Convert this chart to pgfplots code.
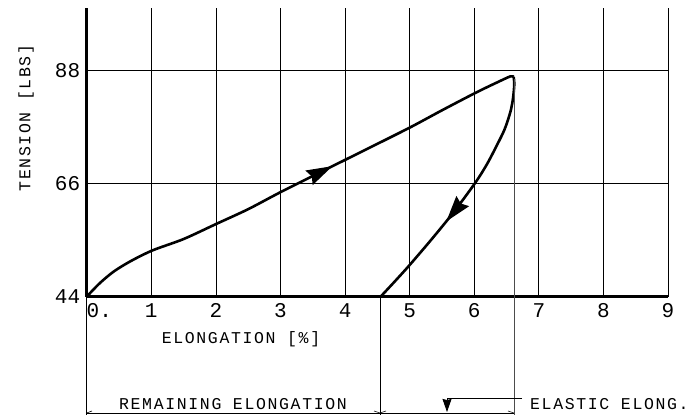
\documentclass[border=0pt]{standalone}
\usepackage{pgfplots}
\pgfplotsset{compat=1.18}
\usepackage{fontspec}
\setmainfont{Liberation Mono}
\newfontfamily\lblfont[LetterSpace=10]{Liberation Mono}
\usetikzlibrary{arrows.meta,decorations.markings}
\begin{document}
\begin{tikzpicture}[x=1pt,y=1pt]
\path[use as bounding box] (0,0) rectangle (688,415);
\begin{axis}[
  at={(86.7pt,118.3pt)}, anchor=south west,
  width=581.3pt, height=288.3pt, scale only axis,
  xmin=0, xmax=9, ymin=44, ymax=100,
  axis x line=bottom, axis y line=left,
  axis line style={line width=3pt, -},
  xtick={0,1,2,3,4,5,6,7,8,9},
  xticklabels={\makebox[0pt][l]{0.},1,2,3,4,5,6,7,8,9},
  ytick={44,66,88},
  yticklabels={44,66,88},
  major tick length=0pt,
  grid=major, grid style={black, line width=0.7pt},
  ticklabel style={font=\fontsize{21}{21}\selectfont},
  xticklabel style={yshift=-3pt},
  yticklabel style={xshift=-3pt},
  /pgf/number format/assume math mode=true,
  clip=false,
]
% loading curve
\addplot[black, line width=2.6pt, smooth,
  postaction={decorate},
  decoration={markings, mark=at position 0.58 with {\arrow[line width=2pt]{Stealth[length=26pt,width=16pt,inset=3pt]}}}]
  coordinates {(0,44) (0.2,46.6) (0.42,48.9) (0.68,50.9) (1.02,53.0) (1.5,55.2) (2.0,58.1) (2.5,61.0) (3.0,64.3) (3.7,68.7) (4.39,73.0) (5.01,76.9) (5.5,80.2) (6.02,83.6) (6.35,85.6) (6.56,86.8) (6.61,86.7)};
% unloading curve
\addplot[black, line width=2.6pt, smooth,
  postaction={decorate},
  decoration={markings, mark=at position 0.62 with {\arrow[line width=2pt]{Stealth[length=26pt,width=16pt,inset=3pt]}}}]
  coordinates {(6.61,86.7) (6.62,85.2) (6.6,82.5) (6.56,79.9) (6.47,76.5) (6.35,73.4) (6.2,69.8) (6.02,66.2) (5.68,60.4) (5.35,55.3) (5.01,50.3) (4.78,47.1) (4.55,44)};
\end{axis}
% extension lines
\draw[line width=0.8pt] (86.7,118.3) -- (86.7,0);
\draw[line width=1pt] (380,118.3) -- (380,0);
\draw[line width=0.9pt, black!70] (514,336) -- (514,0);
% dimension line
\draw[line width=0.8pt] (86.7,2) -- (514,2);
\draw[line width=0.6pt] (86.7,2) -- (92,4);
\draw[line width=0.6pt] (380,2) -- (374,4);
\draw[line width=0.6pt] (380,2) -- (386,4);
\draw[line width=0.6pt] (514,2) -- (508,4);
% leader
\draw[line width=0.8pt] (522,17) -- (447,17);
\draw[line width=0.8pt, -{Stealth[length=13pt,width=9pt,inset=1pt]}] (447,17) -- (447,3);
% labels
\node[font=\lblfont\fontsize{16.5}{16.5}\selectfont] at (241,76) {ELONGATION [\%]};
\node[font=\lblfont\fontsize{16.5}{16.5}\selectfont, rotate=90] at (26,297) {TENSION [LBS]};
\node[font=\lblfont\fontsize{16.5}{16.5}\selectfont] at (233,11) {REMAINING ELONGATION};
\node[font=\lblfont\fontsize{16.5}{16.5}\selectfont, anchor=west, inner sep=0pt] at (530,11) {ELASTIC ELONG.};
\end{tikzpicture}
\end{document}
